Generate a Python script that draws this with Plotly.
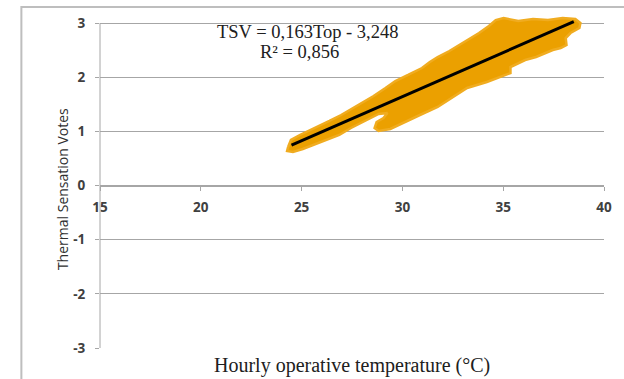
import plotly.graph_objects as go

# Outline of the observed TSV cloud (hourly operative temperature °C, TSV)
cloud_top_x = [24.33, 24.47, 24.91, 25.35, 25.84, 26.38, 26.96, 27.55, 28.04, 28.57,
               29.16, 29.65, 30.28, 30.97, 31.36, 31.75, 32.33, 32.82, 33.21, 33.80,
               34.29, 34.63, 35.02, 35.75, 36.48, 37.22, 37.95, 38.58, 38.83, 38.78]
cloud_top_y = [0.713, 0.842, 0.934, 1.008, 1.100, 1.193, 1.303, 1.433, 1.543, 1.654,
               1.802, 1.931, 2.042, 2.171, 2.282, 2.374, 2.485, 2.596, 2.688, 2.817,
               2.946, 3.057, 3.094, 3.039, 3.075, 3.057, 3.094, 3.075, 3.002, 2.909]
cloud_bottom_x = [38.34, 38.10, 38.14, 37.85, 37.46, 36.63, 36.09, 35.36, 35.36, 34.19,
                  33.21, 31.75, 30.87, 30.14, 29.40, 28.82, 28.62, 28.72, 29.06, 29.26,
                  28.82, 28.43, 27.94, 27.45, 26.87, 26.23, 25.64, 25.06, 24.57, 24.28]
cloud_bottom_y = [2.817, 2.725, 2.595, 2.540, 2.503, 2.374, 2.318, 2.189, 2.078, 1.912,
                  1.802, 1.451, 1.303, 1.174, 1.045, 1.008, 1.063, 1.174, 1.248, 1.340,
                  1.322, 1.248, 1.156, 1.063, 0.934, 0.842, 0.750, 0.676, 0.620, 0.639]

# Linear trend TSV = 0.163 * Top - 3.248
slope = 0.163
intercept = -3.248
fit_x = [24.5, 38.5]
fit_y = [slope * t + intercept for t in fit_x]

x_ticks = [15, 20, 25, 30, 35, 40]
y_ticks = [-3, -2, -1, 0, 1, 2, 3]
y_tick_text = ["-3", "-2", "-1", "0", "1", "2", "3"]

orange = "#EBA000"
grid = "#A6A6A6"

# a little headroom above TSV = 3 so the cloud is not cut at the top gridline
y_lo, y_hi = -3, 3.15
span = y_hi - y_lo


def py(v):
    """TSV value -> paper fraction of the plot height."""
    return (v - y_lo) / span


fig = go.Figure()
fig.add_trace(go.Scatter(
    x=cloud_top_x + cloud_bottom_x + cloud_top_x[:1],
    y=cloud_top_y + cloud_bottom_y + cloud_top_y[:1],
    mode="lines", fill="toself", fillcolor=orange,
    line=dict(color="#F0AC20", width=2.5), hoverinfo="skip", showlegend=False,
))
fig.add_trace(go.Scatter(
    x=fit_x, y=fit_y, mode="lines",
    line=dict(color="black", width=3), showlegend=False,
))

tick_font = dict(family="Open Sans", size=13.5, color="#404040", weight="bold")
serif = dict(family="Liberation Serif", color="#202020")

fig.update_layout(
    width=624, height=379,
    margin=dict(l=100, r=12, t=15, b=31),
    paper_bgcolor="white", plot_bgcolor="white",
    xaxis=dict(
        range=[15, 40], tickvals=x_ticks, anchor="free", position=py(0),
        showline=True, linecolor=grid, linewidth=1,
        ticks="outside", ticklen=4, tickcolor=grid,
        showgrid=False, zeroline=False, tickfont=tick_font,
        ticklabelstandoff=5,
    ),
    yaxis=dict(
        range=[y_lo, y_hi], tickvals=y_ticks, ticktext=y_tick_text,
        showline=False,
        ticks="outside", ticklen=4, tickcolor=grid,
        showgrid=True, gridcolor=grid, gridwidth=1, zeroline=False,
        tickfont=tick_font, ticklabelstandoff=7,
    ),
    shapes=[
        # vertical axis line, from -3 to 3 only
        dict(type="line", xref="paper", yref="paper",
             x0=0, x1=0, y0=py(-3), y1=py(3),
             line=dict(color=grid, width=1)),
        # chart frame
        dict(type="rect", xref="paper", yref="paper",
             x0=-0.156, x1=1.05, y0=-0.15, y1=py(3.297),
             line=dict(color="#BEBEBE", width=2), layer="below"),
    ],
    annotations=[
        dict(text="Hourly operative temperature (°C)", xref="paper", yref="paper",
             x=0.5, y=0, yanchor="top", yshift=-4, showarrow=False,
             font=dict(size=20, **serif)),
        dict(text="Thermal Sensation Votes", xref="paper", yref="paper",
             x=-0.096, y=py(-0.063), textangle=-90, showarrow=False,
             font=dict(family="Open Sans", size=14, color="#303030")),
        dict(text="TSV = 0,163Top - 3,248", xref="x", yref="y",
             x=25.30, y=2.835, showarrow=False, font=dict(size=18.5, **serif)),
        dict(text="R² = 0,856", xref="x", yref="y",
             x=24.91, y=2.466, showarrow=False, font=dict(size=18.5, **serif)),
    ],
)

fig.write_html("out.html")
